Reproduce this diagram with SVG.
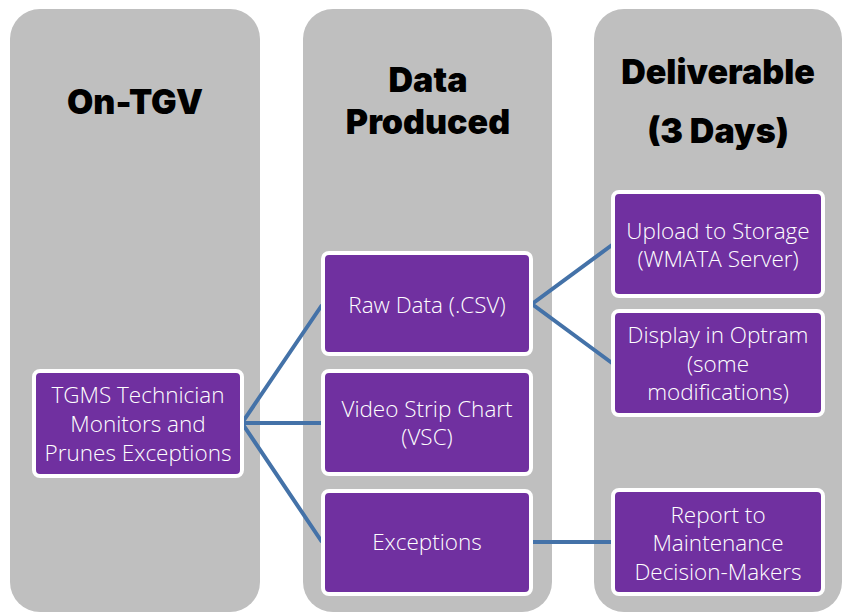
<svg xmlns="http://www.w3.org/2000/svg" width="844" height="613" viewBox="0 0 844 613">
<style>
.col{fill:#BFBFBF;}
.node{fill:#7030A0;stroke:#FFFFFF;stroke-width:4;}
.hdr{font-family:Inter,"DejaVu Sans",sans-serif;font-weight:900;font-size:34px;fill:#000;text-anchor:middle;}
.lbl{font-family:"Open Sans","Noto Sans",sans-serif;font-weight:300;font-size:22.5px;fill:#FFFFFF;text-anchor:middle;}
.conn{stroke:#4472A8;stroke-width:4;fill:none;}
</style>
<rect width="844" height="613" fill="#FFFFFF"/>
<g id="columns">
<rect class="col" x="10" y="9" width="250" height="603" rx="30"/>
<rect class="col" x="303" y="9" width="249" height="603" rx="30"/>
<rect class="col" x="594" y="9" width="248" height="603" rx="30"/>
</g>
<g id="headers">
<text class="hdr" x="135" y="114">On-TGV</text>
<text class="hdr" x="428" y="92">Data</text>
<text class="hdr" x="428" y="134">Produced</text>
<text class="hdr" x="718" y="84">Deliverable</text>
<text class="hdr" x="718" y="143">(3 Days)</text>
</g>
<g id="connectors">
<polyline class="conn" points="322,305 242,423 322,542"/>
<line class="conn" x1="242" y1="423" x2="322" y2="423"/>
<polyline class="conn" points="612,245 532,304 612,363"/>
<line class="conn" x1="531" y1="542" x2="612" y2="542"/>
</g>
<g id="tgms">
<rect class="node" x="34" y="371" width="208" height="105" rx="6"/>
<text class="lbl" x="138" y="403">TGMS Technician</text>
<text class="lbl" x="138" y="432">Monitors and</text>
<text class="lbl" x="138" y="461">Prunes Exceptions</text>
</g>
<g id="rawdata">
<rect class="node" x="323" y="253" width="208" height="101" rx="6"/>
<text class="lbl" x="427" y="313">Raw Data (.CSV)</text>
</g>
<g id="vsc">
<rect class="node" x="323" y="371" width="208" height="103" rx="6"/>
<text class="lbl" x="427" y="417">Video Strip Chart</text>
<text class="lbl" x="427" y="445">(VSC)</text>
</g>
<g id="exceptions">
<rect class="node" x="323" y="491" width="208" height="103" rx="6"/>
<text class="lbl" x="427" y="550">Exceptions</text>
</g>
<g id="upload">
<rect class="node" x="613" y="192" width="210" height="104" rx="6"/>
<text class="lbl" x="718" y="239">Upload to Storage</text>
<text class="lbl" x="718" y="267">(WMATA Server)</text>
</g>
<g id="display">
<rect class="node" x="613" y="311" width="210" height="104" rx="6"/>
<text class="lbl" x="718" y="343">Display in Optram</text>
<text class="lbl" x="718" y="372">(some</text>
<text class="lbl" x="718" y="400">modifications)</text>
</g>
<g id="report">
<rect class="node" x="613" y="490" width="210" height="104" rx="6"/>
<text class="lbl" x="718" y="523">Report to</text>
<text class="lbl" x="718" y="551">Maintenance</text>
<text class="lbl" x="718" y="580">Decision-Makers</text>
</g>
</svg>
